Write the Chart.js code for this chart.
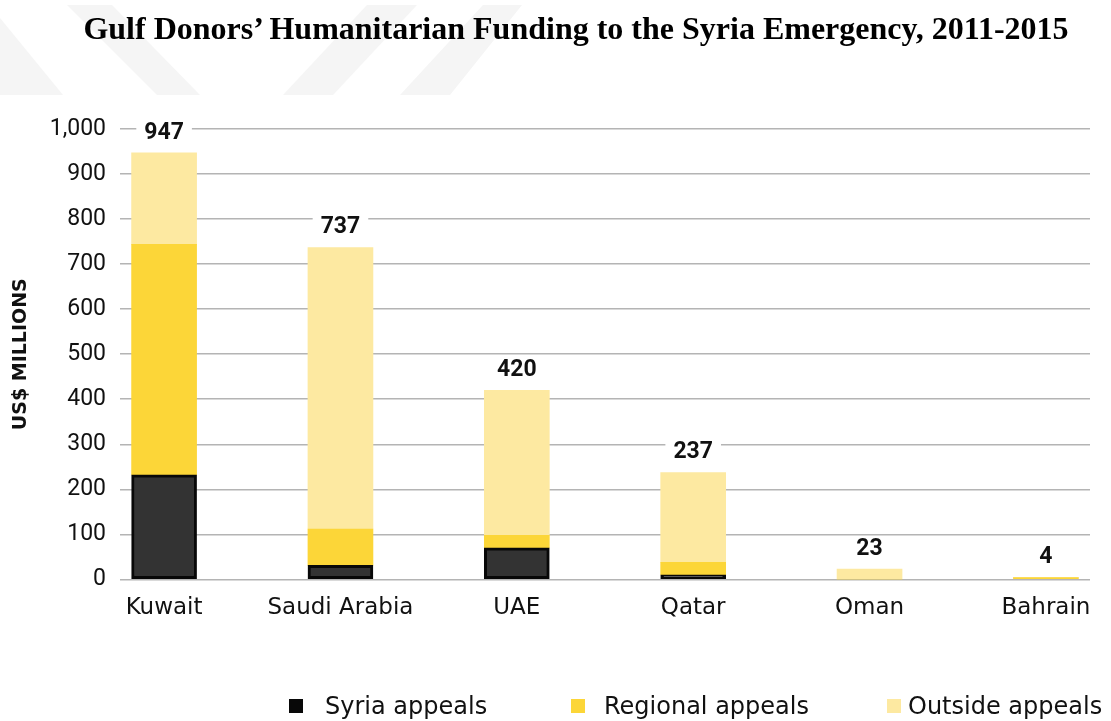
<!DOCTYPE html>
<html>
<head>
<meta charset="utf-8">
<script src="https://cdn.jsdelivr.net/npm/chart.js@4/dist/chart.umd.min.js"></script>
<style>
  html, body { margin: 0; padding: 0; background: #ffffff; }
  #wrap { position: relative; width: 1111px; height: 721px; overflow: hidden; }
  #wm { position: absolute; left: 0; top: 0; }
  #c { position: absolute; left: 0; top: 0; }
  #title { position: absolute; left: 0; top: 9px; width: 1152px; text-align: center;
           font-family: "Liberation Serif", "Times New Roman", serif; font-weight: bold;
           font-size: 32px; line-height: 38px; color: #000; white-space: nowrap; }
  #legend { position: absolute; left: 0; top: 692px; width: 1111px; height: 28px;
            font-family: "DejaVu Sans", sans-serif; font-size: 24px; color: #111; }
  .item { position: absolute; top: 0; height: 28px; line-height: 28px; white-space: nowrap; }
  .box { position: absolute; top: 7px; width: 14px; height: 14px; }
</style>
</head>
<body>
<div id="wrap">
  <svg id="wm" width="1111" height="96" viewBox="0 0 1111 96">
    <g fill="#f5f5f5">
      <polygon points="0,18 63,95 0,95"/>
      <polygon points="67,5 112,5 200,95 157,95"/>
      <polygon points="367,5 417,5 333,95 283,95"/>
      <polygon points="483,5 522,5 450,95 400,95"/>
    </g>
  </svg>
  <canvas id="c" width="1111" height="721"></canvas>
  <div id="title">Gulf Donors’ Humanitarian Funding to the Syria Emergency, 2011-2015</div>
  <div id="legend"></div>
</div>
<script>
// ---- data ----
const categories = ['Kuwait', 'Saudi Arabia', 'UAE', 'Qatar', 'Oman', 'Bahrain'];
const syriaAppeals    = [232, 31, 70, 10, 0, 0];
const regionalAppeals = [512, 81, 28, 28, 0, 4];
const outsideAppeals  = [203, 625, 322, 199, 23, 0];
const totalLabels     = [947, 737, 420, 237, 23, 4];
const seriesNames     = ['Syria appeals', 'Regional appeals', 'Outside appeals'];
const yMax = 1000, yStep = 100;

const colors = {
  syria: '#333333', syriaBorder: '#080808',
  regional: '#FCD638',
  outside: '#FDE9A1'
};

const toPoints = arr => arr.map((v, i) => ({ x: i, y: v }));

const totalsPlugin = {
  id: 'totals',
  afterDatasetsDraw(chart) {
    const { ctx, scales: { x, y } } = chart;
    ctx.save();
    ctx.font = 'bold 23px Roboto, sans-serif';
    ctx.textAlign = 'center';
    ctx.textBaseline = 'middle';
    totalLabels.forEach((t, i) => {
      const px = x.getPixelForValue(i);
      const py = y.getPixelForValue(t) - 21;
      const w = ctx.measureText(String(t)).width;
      ctx.fillStyle = '#ffffff';
      ctx.fillRect(px - w / 2 - 8, py - 12, w + 16, 24);
      ctx.fillStyle = '#111111';
      ctx.fillText(String(t), px, py + 1);
    });
    ctx.restore();
  }
};

const chart = new Chart(document.getElementById('c'), {
  type: 'bar',
  data: {
    datasets: [
      { label: seriesNames[0], data: toPoints(syriaAppeals), backgroundColor: colors.syria,
        borderColor: colors.syriaBorder, borderWidth: 3, borderSkipped: false },
      { label: seriesNames[1], data: toPoints(regionalAppeals), backgroundColor: colors.regional, borderWidth: 0 },
      { label: seriesNames[2], data: toPoints(outsideAppeals), backgroundColor: colors.outside, borderWidth: 0 }
    ]
  },
  options: {
    responsive: false,
    animation: false,
    devicePixelRatio: 1,
    barThickness: 65,
    layout: { padding: { left: 0, right: 21, top: 129, bottom: 92 } },
    plugins: {
      legend: { display: false },
      tooltip: { enabled: false },
      title: { display: false }
    },
    scales: {
      x: {
        type: 'linear',
        stacked: true,
        offset: false,
        min: -0.25,
        max: 5.25,
        afterBuildTicks: s => { s.ticks = categories.map((_, i) => ({ value: i })); },
        ticks: {
          callback: v => categories[v] ?? '',
          font: { family: '"DejaVu Sans", sans-serif', size: 23 },
          color: '#111111',
          padding: 7,
          maxRotation: 0,
          autoSkip: false
        },
        grid: { display: false },
        border: { display: false }
      },
      y: {
        stacked: true,
        min: 0,
        max: yMax,
        afterFit: s => { s.width = 120; },
        ticks: {
          stepSize: yStep,
          font: { family: 'Roboto, sans-serif', size: 23 },
          color: '#111111',
          padding: 14
        },
        grid: { color: '#b4b4b4', lineWidth: 1.5, drawTicks: false },
        border: { display: false },
        title: {
          display: true,
          text: 'US$ MILLIONS',
          font: { family: '"DejaVu Sans", sans-serif', size: 19, weight: 'bold' },
          color: '#111111',
          padding: { top: 10, bottom: 0 }
        }
      }
    }
  },
  plugins: [totalsPlugin]
});

// legend (HTML) built from the series
const legendPos = [
  { box: 289, text: 325 },
  { box: 571, text: 604 },
  { box: 887, text: 908 }
];
const legendColors = [colors.syriaBorder, colors.regional, colors.outside];
const lg = document.getElementById('legend');
seriesNames.forEach((name, i) => {
  const b = document.createElement('div');
  b.className = 'box';
  b.style.left = legendPos[i].box + 'px';
  b.style.background = legendColors[i];
  lg.appendChild(b);
  const t = document.createElement('div');
  t.className = 'item';
  t.style.left = legendPos[i].text + 'px';
  t.textContent = name;
  lg.appendChild(t);
});
</script>
</body>
</html>
